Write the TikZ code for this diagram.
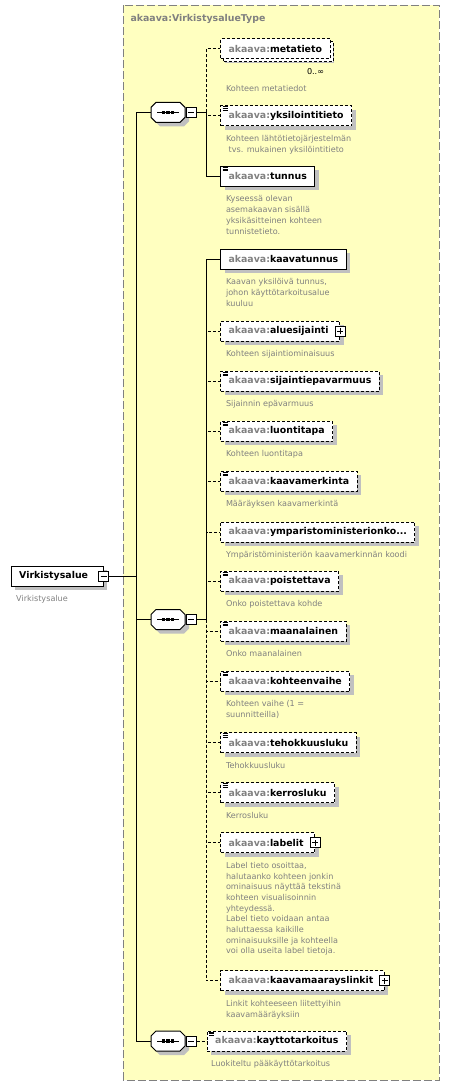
\documentclass[tikz,border=0pt]{standalone}
\usepackage{fontspec}
\setmainfont{DejaVu Sans}
\usepackage{tikz}
\usetikzlibrary{positioning,shadows}

\definecolor{typebg}{RGB}{255,255,192}
\definecolor{typeline}{RGB}{128,128,128}
\definecolor{descgray}{RGB}{128,128,128}
\definecolor{shade}{RGB}{192,192,192}

\newcommand{\elemfont}{\fontsize{9.4}{11}\selectfont\bfseries}
\newcommand{\descfont}{\fontsize{8.1}{10.7}\selectfont}
\newcommand{\ns}{{\color{descgray}akaava:}}

\begin{document}
\begin{tikzpicture}[x=1pt,y=-1pt,line width=1pt,node distance=10pt]
%x,y in pixels of the reference

   \tikzstyle{elem}=[draw,fill=white,rectangle,anchor=west,minimum height=20pt,inner xsep=8pt,inner ysep=0pt,font=\elemfont,
      drop shadow={shadow xshift=4pt,shadow yshift=-4pt,fill=shade,opacity=1}]
   \tikzstyle{opt}=[dash pattern=on 3pt off 2pt]
   \tikzstyle{simple}=[path picture={\draw[solid,line width=0.7pt]
      ([xshift=2pt,yshift=-1pt]path picture bounding box.north west) -- ++(5pt,0pt)
      ([xshift=2pt,yshift=-2.6pt]path picture bounding box.north west) -- ++(5pt,0pt)
      ([xshift=2pt,yshift=-4.2pt]path picture bounding box.north west) -- ++(5pt,0pt);}]
   \tikzstyle{box}=[draw,solid,fill=white,rectangle,minimum size=10pt,inner sep=0pt]
   \tikzstyle{minus}=[box,
      path picture={\draw ([xshift=-3pt]path picture bounding box.center) -- ([xshift=3pt]path picture bounding box.center);}]
   \tikzstyle{plus}=[box,
      path picture={\draw ([xshift=-3pt]path picture bounding box.center) -- ([xshift=3pt]path picture bounding box.center)
                          ([yshift=-3pt]path picture bounding box.center) -- ([yshift=3pt]path picture bounding box.center);}]
   \tikzstyle{octa}=[draw,fill=white,drop shadow={shadow xshift=4pt,shadow yshift=-4pt,fill=shade,opacity=1}]
   \tikzstyle{seq}=[rectangle,minimum width=34pt,minimum height=20pt,inner sep=0pt,
      path picture={\draw ([xshift=-11pt]path picture bounding box.center) -- ([xshift=11pt]path picture bounding box.center);
        \fill[black] ([xshift=-6pt,yshift=-1.6pt]path picture bounding box.center) rectangle ++(3.2pt,3.2pt);
        \fill[black] ([xshift=-1.6pt,yshift=-1.6pt]path picture bounding box.center) rectangle ++(3.2pt,3.2pt);
        \fill[black] ([xshift=2.8pt,yshift=-1.6pt]path picture bounding box.center) rectangle ++(3.2pt,3.2pt);}]
   \tikzstyle{desc}=[font=\descfont,text=descgray,align=left,inner sep=0pt]

  \useasboundingbox (0,0) rectangle (450,1086);

  % the complex type
  \draw[typeline,fill=typebg,dash pattern=on 8pt off 3pt] (123.3,5.3) rectangle (439.3,1080);
  \node[anchor=west,font=\elemfont,text=descgray,inner sep=0pt] (typename) at (130,18.7) {akaava:VirkistysalueType};

  % root element
  \node[elem] (root) at (10.7,576.3) {Virkistysalue\hspace*{7pt}};
  \node[minus] (rootm) at (root.east) {};
  \node[desc,below right=8.5pt and 5pt of root.south west] (rootd) {Virkistysalue};

  % sequences
  \draw[octa] (168,112.3) ++(-12,-10) -- ++(24,0) -- ++(5,5) -- ++(0,10) -- ++(-5,5) -- ++(-24,0) -- ++(-5,-5) -- ++(0,-10) -- cycle;
  \node[seq] (seqA) at (168,112.3) {};
  \node[minus,right=0pt of seqA] (seqAm) {};
  \draw[octa] (168,619.5) ++(-12,-10) -- ++(24,0) -- ++(5,5) -- ++(0,10) -- ++(-5,5) -- ++(-24,0) -- ++(-5,-5) -- ++(0,-10) -- cycle;
  \node[seq] (seqB) at (168,619.5) {};
  \node[minus,right=0pt of seqB] (seqBm) {};
  \draw[octa] (168,1041) ++(-12,-10) -- ++(24,0) -- ++(5,5) -- ++(0,10) -- ++(-5,5) -- ++(-24,0) -- ++(-5,-5) -- ++(0,-10) -- cycle;
  \node[seq] (seqC) at (168,1041) {};
  \node[minus,right=0pt of seqC] (seqCm) {};

  % first sequence
  \node[elem,opt,copy shadow={shadow xshift=3pt,shadow yshift=-3pt,draw,fill=white,opt}] (metatieto) at (220,48.7) {\ns metatieto};
  \node[font=\descfont,inner sep=0pt,below left=8.5pt and 6pt of metatieto.south east] (metacard) {0..∞};
  \node[desc,below right=25.5pt and 5.5pt of metatieto.south west] (metatietod) {Kohteen metatiedot};
  \node[elem,opt,simple] (yksilointitieto) at (220,115.7) {\ns yksilointitieto};
  \node[desc,below right=8.5pt and 5.5pt of yksilointitieto.south west] (yksilointitietod) {Kohteen lähtötietojärjestelmän\\ \ tvs. mukainen yksilöintitieto};
  \node[elem,simple] (tunnus) at (220,176.3) {\ns tunnus};
  \node[desc,below right=8.5pt and 5.5pt of tunnus.south west] (tunnusd) {Kyseessä olevan\\asemakaavan sisällä\\yksikäsitteinen kohteen\\tunnistetieto.};

  % second sequence
  \node[elem] (kaavatunnus) at (220,259.3) {\ns kaavatunnus};
  \node[desc,below right=8.5pt and 5.5pt of kaavatunnus.south west] (kaavatunnusd) {Kaavan yksilöivä tunnus,\\johon käyttötarkoitusalue\\kuuluu};
  \node[elem,opt] (aluesijainti) at (220,331.3) {\ns aluesijainti\hspace*{3pt}};
  \node[plus] (aluesijaintip) at (aluesijainti.east) {};
  \node[desc,below right=8.5pt and 5.5pt of aluesijainti.south west] (aluesijaintid) {Kohteen sijaintiominaisuus};
  \node[elem,opt,simple] (sijaintiepavarmuus) at (220,381.3) {\ns sijaintiepavarmuus};
  \node[desc,below right=8.5pt and 5.5pt of sijaintiepavarmuus.south west] (sijaintiepavarmuusd) {Sijainnin epävarmuus};
  \node[elem,opt,simple] (luontitapa) at (220,431.3) {\ns luontitapa};
  \node[desc,below right=8.5pt and 5.5pt of luontitapa.south west] (luontitapad) {Kohteen luontitapa};
  \node[elem,opt,simple] (kaavamerkinta) at (220,481.3) {\ns kaavamerkinta};
  \node[desc,below right=8.5pt and 5.5pt of kaavamerkinta.south west] (kaavamerkintad) {Määräyksen kaavamerkintä};
  \node[elem,opt] (ymkoodi) at (220,532) {\ns ymparistoministerionko...};
  \node[desc,below right=8.5pt and 5.5pt of ymkoodi.south west] (ymkoodid) {Ympäristöministeriön kaavamerkinnän koodi};
  \node[elem,opt,simple] (poistettava) at (220,581.3) {\ns poistettava};
  \node[desc,below right=8.5pt and 5.5pt of poistettava.south west] (poistettavad) {Onko poistettava kohde};
  \node[elem,opt,simple] (maanalainen) at (220,631.3) {\ns maanalainen};
  \node[desc,below right=8.5pt and 5.5pt of maanalainen.south west] (maanalainend) {Onko maanalainen};
  \node[elem,opt,simple] (kohteenvaihe) at (220,681.3) {\ns kohteenvaihe};
  \node[desc,below right=8.5pt and 5.5pt of kohteenvaihe.south west] (kohteenvaihed) {Kohteen vaihe (1 =\\suunnitteilla)};
  \node[elem,opt,simple] (tehokkuusluku) at (220,742.7) {\ns tehokkuusluku};
  \node[desc,below right=8.5pt and 5.5pt of tehokkuusluku.south west] (tehokkuuslukud) {Tehokkuusluku};
  \node[elem,opt,simple] (kerrosluku) at (220,792.7) {\ns kerrosluku};
  \node[desc,below right=8.5pt and 5.5pt of kerrosluku.south west] (kerroslukud) {Kerrosluku};
  \node[elem,opt] (labelit) at (220,842.7) {\ns labelit\hspace*{3pt}};
  \node[plus] (labelitp) at (labelit.east) {};
  \node[desc,below right=8.5pt and 5.5pt of labelit.south west] (labelitd) {Label tieto osoittaa,\\halutaanko kohteen jonkin\\ominaisuus näyttää tekstinä\\kohteen visualisoinnin\\yhteydessä.\\Label tieto voidaan antaa\\haluttaessa kaikille\\ominaisuuksille ja kohteella\\voi olla useita label tietoja.};
  \node[elem,opt] (kaavamaarayslinkit) at (220,980.7) {\ns kaavamaarayslinkit\hspace*{3pt}};
  \node[plus] (kaavamaarayslinkitp) at (kaavamaarayslinkit.east) {};
  \node[desc,below right=8.5pt and 5.5pt of kaavamaarayslinkit.south west] (kaavamaarayslinkitd) {Linkit kohteeseen liitettyihin\\kaavamääräyksiin};

  % third sequence
  \node[elem,opt,simple] (kayttotarkoitus) at (206.7,1041) {\ns kayttotarkoitus};
  \node[desc,below right=8.5pt and 4pt of kayttotarkoitus.south west] (kayttotarkoitusd) {Luokiteltu pääkäyttötarkoitus};

  % connectors
  \coordinate (trunk) at (136.3,576.3);
  \draw (rootm) -- (trunk);
  \draw (seqA) -| (trunk);
  \draw (seqB) -| (trunk);
  \draw (seqC) -| (trunk);

  \coordinate[right=10pt of seqAm] (brA);
  \draw (seqAm) -- (brA);
  \draw[opt] (brA) |- (metatieto);
  \draw[opt] (brA) |- (yksilointitieto);
  \draw (brA) |- (tunnus);

  \coordinate[right=10pt of seqBm] (brB);
  \draw (seqBm) -- (brB);
  \draw (brB) |- (kaavatunnus);
  \draw[opt] (brB) |- (aluesijainti);
  \draw[opt] (brB) |- (sijaintiepavarmuus);
  \draw[opt] (brB) |- (luontitapa);
  \draw[opt] (brB) |- (kaavamerkinta);
  \draw[opt] (brB) |- (ymkoodi);
  \draw[opt] (brB) |- (poistettava);
  \draw[opt] (brB) |- (maanalainen);
  \draw[opt] (brB) |- (kohteenvaihe);
  \draw[opt] (brB) |- (tehokkuusluku);
  \draw[opt] (brB) |- (kerrosluku);
  \draw[opt] (brB) |- (labelit);
  \draw[opt] (brB) |- (kaavamaarayslinkit);

  \draw[opt] (seqCm) -- (kayttotarkoitus);

\end{tikzpicture}
\end{document}
